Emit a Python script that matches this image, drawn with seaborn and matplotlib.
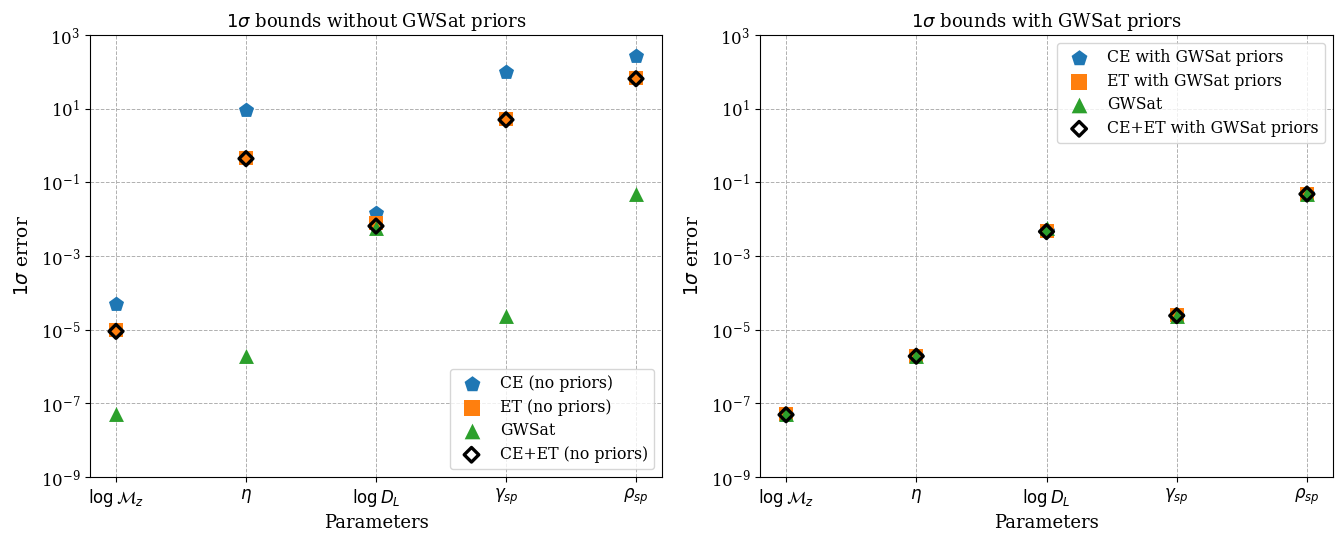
import numpy as np
import pandas as pd
import matplotlib
matplotlib.use("Agg")
import matplotlib.pyplot as plt
import seaborn as sns

# Parameter labels
params = [r"$\log\mathcal{M}_z$", r"$\eta$", r"$\log D_L$", r"$\gamma_{sp}$", r"$\rho_{sp}$"]

# 1-sigma errors without priors
ce_nopriors = [5.0e-5, 9.2, 1.45e-2, 100.0, 275.0]
et_nopriors = [9.5e-6, 0.46, 8.0e-3, 5.2, 68.0]
gwsat = [5.0e-8, 1.9e-6, 5.8e-3, 2.4e-5, 4.8e-2]
ceet_nopriors = [9.0e-6, 0.44, 6.5e-3, 5.0, 65.0]

# 1-sigma errors with GWSat priors
ce_priors = [4.9e-8, 1.9e-6, 4.8e-3, 2.4e-5, 4.8e-2]
et_priors = [5.0e-8, 1.95e-6, 4.9e-3, 2.45e-5, 4.9e-2]
ceet_priors = [4.9e-8, 1.9e-6, 4.6e-3, 2.4e-5, 4.8e-2]

yticks = [1e3, 1e1, 1e-1, 1e-3, 1e-5, 1e-7, 1e-9]

plt.rcParams["font.family"] = ["DejaVu Serif"]
plt.rcParams["mathtext.fontset"] = "dejavusans"

blue, orange, green = "#1f77b4", "#ff7f0e", "#2ca02c"

fig = plt.figure(figsize=(13.36, 5.33), dpi=100)
ax1 = fig.add_axes([90 / 1336, 1 - 477 / 533, 572 / 1336, 442 / 533])
ax2 = fig.add_axes([760 / 1336, 1 - 477 / 533, 573 / 1336, 442 / 533])

x = np.arange(len(params))


def draw(ax, series, title, loc):
    for vals, label, marker, color, size in series:
        df = pd.DataFrame({"x": x, "y": vals})
        if marker == "D":
            sns.scatterplot(data=df, x="x", y="y", ax=ax, marker="D", s=size,
                            facecolor="none", edgecolor="black", linewidth=2.4,
                            label=label, zorder=4)
        else:
            sns.scatterplot(data=df, x="x", y="y", ax=ax, marker=marker, s=size,
                            color=color, linewidth=0, label=label, zorder=3)
    ax.set_yscale("log")
    ax.set_ylim(1e-9, 1e3)
    ax.set_yticks(yticks)
    ax.minorticks_off()
    ax.set_xlim(-0.2, 4.2)
    ax.set_xticks(x)
    ax.set_xticklabels(params, fontsize=12)
    ax.tick_params(axis="y", labelsize=12)
    ax.grid(True, linestyle="--", color="#b0b0b0", linewidth=0.7)
    ax.set_xlabel("Parameters", fontsize=13)
    ax.set_ylabel(r"$1\sigma$ error", fontsize=13.5, labelpad=6)
    ax.set_title(title, fontsize=13)
    ax.legend(loc=loc, fontsize=11.3, labelspacing=0.42, framealpha=0.8,
              markerscale=1.05)


draw(ax1, [
    (ce_nopriors, "CE (no priors)", "p", blue, 130),
    (et_nopriors, "ET (no priors)", "s", orange, 115),
    (gwsat, "GWSat", "^", green, 115),
    (ceet_nopriors, "CE+ET (no priors)", "D", "black", 50),
], r"$1\sigma$ bounds without GWSat priors", "lower right")

draw(ax2, [
    (ce_priors, "CE with GWSat priors", "p", blue, 130),
    (et_priors, "ET with GWSat priors", "s", orange, 115),
    (gwsat, "GWSat", "^", green, 115),
    (ceet_priors, "CE+ET with GWSat priors", "D", "black", 50),
], r"$1\sigma$ bounds with GWSat priors", "upper right")

fig.savefig("out.png", dpi=100)
